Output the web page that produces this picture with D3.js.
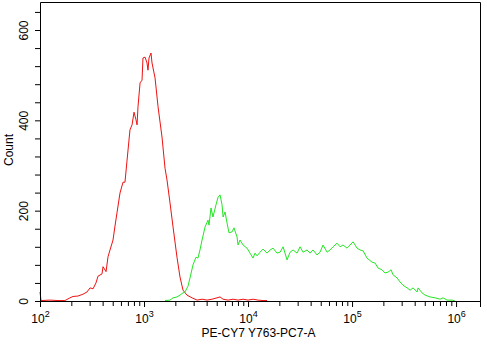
<!DOCTYPE html>
<html>
<head>
<meta charset="utf-8">
<script src="https://cdn.jsdelivr.net/npm/d3@7"></script>
<style>
  html, body { margin: 0; padding: 0; background: #fff; }
  svg { display: block; font-family: "Liberation Sans", Arial, sans-serif; }
</style>
</head>
<body>
<svg id="chart" width="487" height="347"></svg>
<script>
// Histogram positions are log10 of the PE-CY7 channel intensity; counts per bin.
const redLog10 = [2.000, 2.010, 2.096, 2.173, 2.240, 2.288, 2.317, 2.365, 2.413, 2.452,
  2.481, 2.510, 2.538, 2.558, 2.596, 2.606, 2.635, 2.654, 2.673, 2.702,
  2.721, 2.740, 2.769, 2.798, 2.817, 2.837, 2.865, 2.885, 2.904, 2.923,
  2.933, 2.942, 2.962, 2.981, 2.990, 3.010, 3.029, 3.038, 3.048, 3.067,
  3.077, 3.106, 3.135, 3.173, 3.202, 3.221, 3.250, 3.279, 3.317, 3.346,
  3.375, 3.413, 3.462, 3.510, 3.558, 3.606, 3.654, 3.702, 3.731, 3.760,
  3.808, 3.856, 3.904, 3.952, 4.000, 4.048, 4.096, 4.144, 4.183];
const redCount = [20, 1, 2, 1, 1, 7, 10, 11, 15, 20,
  29, 27, 40, 55, 60, 76, 65, 98, 113, 135,
  166, 195, 239, 263, 263, 312, 379, 390, 418, 401,
  390, 430, 483, 489, 538, 540, 527, 511, 538, 549,
  527, 494, 430, 363, 294, 268, 217, 164, 97, 53,
  24, 13, 7, 2, 4, 2, 4, 7, 9, 4,
  2, 4, 2, 4, 2, 4, 2, 1, 1];

const greenLog10 = [3.202, 3.250, 3.279, 3.317, 3.346, 3.375, 3.394, 3.423, 3.442, 3.471,
  3.500, 3.519, 3.538, 3.558, 3.587, 3.615, 3.625, 3.644, 3.663, 3.692,
  3.712, 3.731, 3.750, 3.760, 3.779, 3.798, 3.817, 3.846, 3.865, 3.894,
  3.904, 3.923, 3.952, 3.990, 4.019, 4.048, 4.067, 4.087, 4.115, 4.144,
  4.183, 4.212, 4.240, 4.279, 4.308, 4.337, 4.375, 4.404, 4.433, 4.471,
  4.500, 4.529, 4.567, 4.596, 4.625, 4.663, 4.692, 4.721, 4.760, 4.788,
  4.817, 4.856, 4.885, 4.913, 4.952, 4.981, 5.010, 5.048, 5.077, 5.106,
  5.144, 5.192, 5.221, 5.250, 5.288, 5.317, 5.346, 5.375, 5.394, 5.433,
  5.462, 5.490, 5.529, 5.558, 5.587, 5.625, 5.635, 5.673, 5.702, 5.750,
  5.798, 5.846, 5.875, 5.913, 5.962, 5.990];
const greenCount = [1, 2, 7, 9, 13, 18, 20, 33, 51, 80,
  97, 95, 113, 135, 164, 179, 168, 206, 186, 213,
  230, 235, 213, 186, 197, 173, 151, 153, 162, 142,
  124, 135, 124, 117, 106, 95, 106, 100, 108, 115,
  106, 113, 117, 106, 108, 120, 91, 108, 113, 106,
  120, 108, 113, 106, 113, 102, 108, 124, 108, 113,
  120, 128, 120, 124, 117, 124, 131, 117, 113, 111,
  95, 86, 84, 73, 69, 62, 64, 69, 58, 51,
  42, 35, 29, 24, 29, 20, 29, 18, 13, 9,
  7, 4, 7, 2, 2, 0];

// Axis ticks
const decades = [2, 3, 4, 5, 6];
const countTicks = [0, 40, 80, 120, 160, 200, 240, 280, 320, 360, 400, 440, 480, 520, 560, 600, 640];
const countLabels = [0, 200, 400, 600];
const xTitle = "PE-CY7 Y763-PC7-A";
const yTitle = "Count";

const svg = d3.select("#chart");
const plotLeft = 40, plotRight = 480, plotTop = 2, plotBottom = 301;

const x = d3.scaleLinear().domain([2, 6.23]).range([plotLeft, plotRight]);
const y = d3.scaleLinear().domain([0, 662]).range([plotBottom, plotTop]);

// minor decade ticks (2..9 × 10^n)
const minorX = [];
decades.slice(0, -1).forEach(d => {
  for (let k = 2; k <= 9; k++) minorX.push(d + Math.log10(k));
});

const line = d3.line().x(d => x(d[0])).y(d => y(d[1]));

svg.append("path")
  .datum(redLog10.map((v, i) => [v, redCount[i]]))
  .attr("d", line)
  .attr("fill", "none")
  .attr("stroke", "#ee1111")
  .attr("stroke-width", 1);

svg.append("path")
  .datum(greenLog10.map((v, i) => [v, greenCount[i]]))
  .attr("d", line)
  .attr("fill", "none")
  .attr("stroke", "#22e622")
  .attr("stroke-width", 1);

// frame: top and right edges
svg.append("path")
  .attr("d", `M${plotLeft + 0.5},${plotTop + 0.5}H${plotRight + 0.5}V${plotBottom + 0.5}`)
  .attr("fill", "none")
  .attr("stroke", "#000");

// bottom axis: minor ticks
svg.append("g")
  .attr("transform", `translate(0,${plotBottom})`)
  .call(d3.axisBottom(x).tickValues(minorX).tickSize(5).tickSizeOuter(6).tickFormat(""))
  .call(g => g.selectAll("line,path").attr("stroke", "#000"));

// bottom axis: decade ticks with 10^n labels
const xAxisG = svg.append("g")
  .attr("transform", `translate(0,${plotBottom})`)
  .call(d3.axisBottom(x).tickValues(decades).tickSize(6).tickSizeOuter(6).tickFormat(""));
xAxisG.selectAll("line,path").attr("stroke", "#000");
xAxisG.selectAll(".tick text").remove();
xAxisG.selectAll(".tick").append("text")
  .attr("y", 22)
  .attr("fill", "#000")
  .attr("font-size", 12)
  .attr("text-anchor", "middle")
  .call(t => {
    t.append("tspan").text("10");
    t.append("tspan").attr("dy", -6).attr("font-size", 9).text(d => d);
  });

// left axis
const yAxisG = svg.append("g")
  .attr("transform", `translate(${plotLeft},0)`)
  .call(d3.axisLeft(y).tickValues(countTicks).tickSize(5).tickSizeOuter(0).tickFormat(""));
yAxisG.selectAll("line,path").attr("stroke", "#000");
yAxisG.selectAll(".tick text").remove();
yAxisG.selectAll(".tick")
  .filter(d => countLabels.includes(d))
  .append("text")
  .attr("transform", "rotate(-90)")
  .attr("x", 0)
  .attr("y", -12)
  .attr("fill", "#000")
  .attr("font-size", 12)
  .attr("text-anchor", "middle")
  .text(d => d);

// axis titles
svg.append("text")
  .attr("x", 258.5)
  .attr("y", 337)
  .attr("font-size", 12)
  .attr("text-anchor", "middle")
  .attr("fill", "#000")
  .text(xTitle);

svg.append("text")
  .attr("transform", "translate(13,150) rotate(-90)")
  .attr("font-size", 12)
  .attr("text-anchor", "middle")
  .attr("fill", "#000")
  .text(yTitle);
</script>
</body>
</html>
